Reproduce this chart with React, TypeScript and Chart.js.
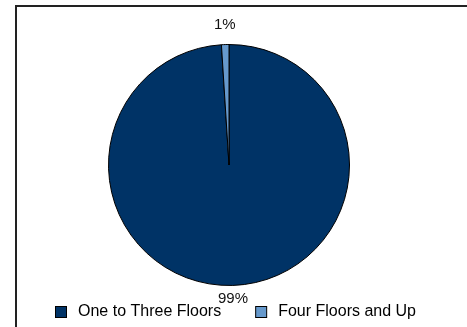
import React, { useEffect, useRef } from "react";
import { Chart, registerables } from "chart.js";

Chart.register(...registerables);

// Building stock by height
const categories = ["One to Three Floors", "Four Floors and Up"];
const shares = [99, 1];
const sliceColors = ["#003366", "#6699cc"];

const FONT = "'Liberation Sans', Arial, sans-serif";

// Thin frame running along the top and left edges
const framePlugin = {
  id: "frame",
  beforeDraw(chart: any) {
    const { ctx, width, height } = chart;
    ctx.save();
    ctx.strokeStyle = "#222";
    ctx.lineWidth = 2;
    ctx.beginPath();
    ctx.moveTo(16, height + 2);
    ctx.lineTo(16, 6);
    ctx.lineTo(width + 2, 6);
    ctx.stroke();
    ctx.restore();
  },
};

// Percentage labels placed just outside each slice
const percentLabelPlugin = {
  id: "percentLabels",
  afterDatasetsDraw(chart: any) {
    const { ctx } = chart;
    const meta = chart.getDatasetMeta(0);
    const data = chart.data.datasets[0].data as number[];
    const total = data.reduce((a, b) => a + b, 0);
    ctx.save();
    ctx.font = `15px ${FONT}`;
    ctx.fillStyle = "#111";
    ctx.textAlign = "center";
    meta.data.forEach((arc: any, i: number) => {
      const { x, y, startAngle, endAngle, outerRadius } = arc.getProps(
        ["x", "y", "startAngle", "endAngle", "outerRadius"],
        true
      );
      const mid = (startAngle + endAngle) / 2;
      const dx = Math.cos(mid);
      const dy = Math.sin(mid);
      const r = outerRadius + (dy < 0 ? 12 : 6);
      ctx.textBaseline = dy < 0 ? "bottom" : "top";
      const pct = Math.round((data[i] / total) * 100);
      ctx.fillText(`${pct}%`, x + dx * r, y + dy * r);
    });
    ctx.restore();
  },
};

// Legend row along the bottom
const legendPlugin = {
  id: "bottomLegend",
  afterDraw(chart: any) {
    const { ctx } = chart;
    const labels = chart.data.labels as string[];
    const colors = chart.data.datasets[0].backgroundColor as string[];
    const box = 11;
    const gapText = 12;
    const gapItem = 34;
    const cy = 312;
    ctx.save();
    ctx.font = `16px ${FONT}`;
    const widths = labels.map((l) => box + gapText + ctx.measureText(l).width);
    const total = widths.reduce((a, b) => a + b, 0) + gapItem * (labels.length - 1);
    let x = Math.round(236 - total / 2);
    labels.forEach((l, i) => {
      ctx.fillStyle = colors[i];
      ctx.fillRect(x + 0.5, cy - box / 2, box, box);
      ctx.strokeStyle = "#000";
      ctx.lineWidth = 1;
      ctx.strokeRect(x + 0.5, cy - box / 2, box, box);
      ctx.fillStyle = "#000";
      ctx.textAlign = "left";
      ctx.textBaseline = "middle";
      ctx.fillText(l, x + box + gapText, cy);
      x += widths[i] + gapItem;
    });
    ctx.restore();
  },
};

export default function App() {
  const canvasRef = useRef<HTMLCanvasElement | null>(null);

  useEffect(() => {
    if (!canvasRef.current) return;
    const chart = new Chart(canvasRef.current, {
      type: "pie",
      data: {
        labels: categories,
        datasets: [
          {
            data: shares,
            backgroundColor: sliceColors,
            borderColor: "#000",
            borderWidth: 1,
          },
        ],
      },
      options: {
        responsive: false,
        animation: false,
        devicePixelRatio: 1,
        layout: { padding: { left: 108, top: 44, right: 117, bottom: 41 } },
        plugins: {
          legend: { display: false },
          tooltip: { enabled: false },
        },
      },
      plugins: [framePlugin, percentLabelPlugin, legendPlugin],
    });
    return () => chart.destroy();
  }, []);

  return (
    <div style={{ position: "absolute", left: 0, top: 0, width: 467, height: 327, background: "#fff" }}>
      <canvas ref={canvasRef} width={467} height={327} />
    </div>
  );
}
